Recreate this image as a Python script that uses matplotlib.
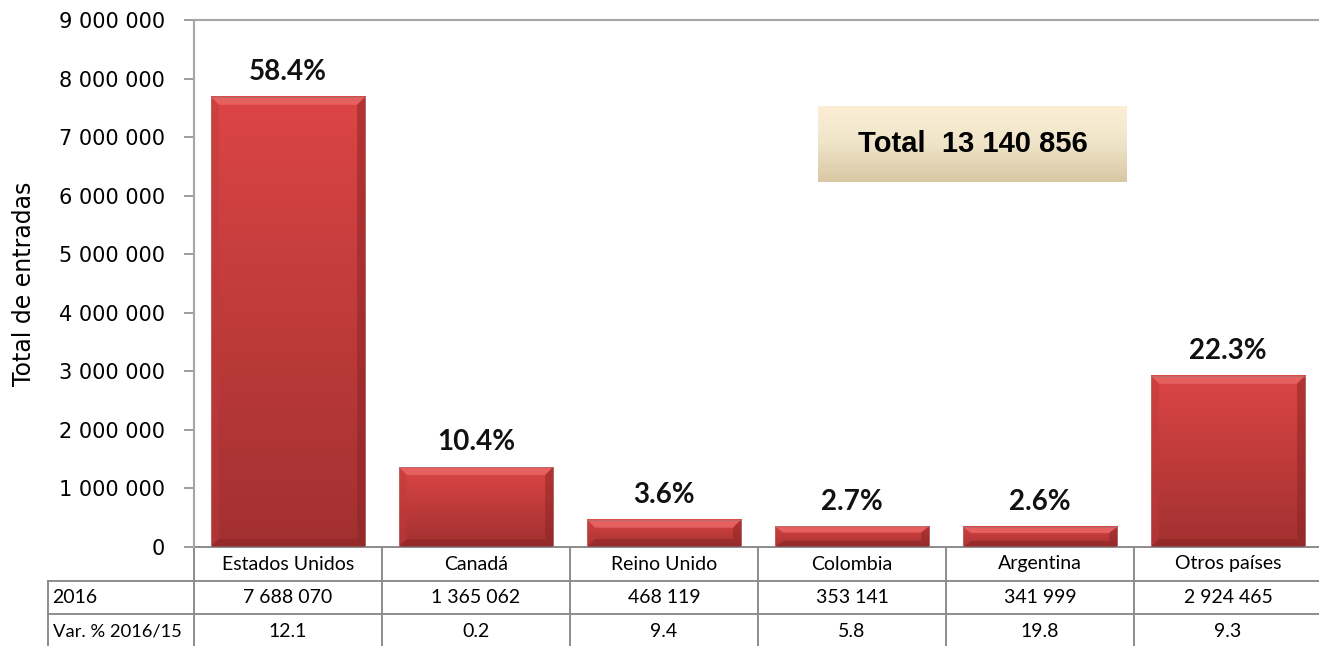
import numpy as np
import matplotlib.pyplot as plt
from matplotlib.colors import LinearSegmentedColormap
from matplotlib.patches import Polygon, Rectangle

paises = ['Estados Unidos', 'Canadá', 'Reino Unido', 'Colombia', 'Argentina', 'Otros países']
entradas = [7688070, 1365062, 468119, 353141, 341999, 2924465]
participacion = ['58.4%', '10.4%', '3.6%', '2.7%', '2.6%', '22.3%']
variacion = ['12.1', '0.2', '9.4', '5.8', '19.8', '9.3']
total = 13140856
yticks = [0, 1000000, 2000000, 3000000, 4000000, 5000000, 6000000, 7000000, 8000000, 9000000]

W, H = 1319, 646
fig = plt.figure(figsize=(W / 100, H / 100), dpi=100)
# axes area in pixels: x 194..1322, y 20..547
ax = fig.add_axes([194 / W, (H - 547) / H, 1128 / W, 527 / H])
plt.rcParams['font.family'] = ['Lato', 'DejaVu Sans']

def fmt(v):
    return f'{v:,}'.replace(',', ' ')

grid = '#8c8c8c'
n = len(paises)
x = np.arange(n)
bw = 0.82
ymax = 9000000
ax.set_xlim(-0.5, n - 0.5)
ax.set_ylim(0, ymax)

cmap = LinearSegmentedColormap.from_list('rojo', ['#a23030', '#dc4545'])
grad = np.linspace(0, 1, 256).reshape(-1, 1)
bx = 8 / 188          # bevel width in data units
by = 8 / 527 * ymax   # bevel height in data units
for xi, v in zip(x, entradas):
    x0, x1 = xi - bw / 2, xi + bw / 2
    ax.imshow(grad, cmap=cmap, origin='lower', aspect='auto',
              extent=(x0, x1, 0, v), zorder=2, interpolation='bilinear')
    b = min(by, v * 0.3)
    ax.add_patch(Polygon([(x0, v), (x1, v), (x1 - bx, v - b), (x0 + bx, v - b)],
                         closed=True, color='#e66060', lw=0, zorder=3))
    ax.add_patch(Polygon([(x1, v), (x1, 0), (x1 - bx, b), (x1 - bx, v - b)],
                         closed=True, color='#8a2424', alpha=0.5, lw=0, zorder=3))
    ax.add_patch(Polygon([(x0, v), (x0, 0), (x0 + bx, b), (x0 + bx, v - b)],
                         closed=True, color='#c03a3a', alpha=0.45, lw=0, zorder=3))
    ax.add_patch(Polygon([(x0, 0), (x1, 0), (x1 - bx, b), (x0 + bx, b)],
                         closed=True, color='#8a2626', alpha=0.55, lw=0, zorder=3))
    ax.add_patch(Rectangle((x0, 0), bw, v, fill=False, ec='#b07070', lw=0.6, zorder=4))

for xi, v, p in zip(x, entradas, participacion):
    ax.text(xi, v + 200000, p, ha='center', va='bottom', fontsize=20,
            fontweight='bold', color='#111111')

ax.set_yticks(yticks)
ax.set_yticklabels([fmt(t) for t in yticks], fontsize=15)
ax.set_xticks([])
ax.tick_params(axis='y', direction='out', length=7, width=1.2, color=grid, pad=14)
for s in ['right', 'bottom']:
    ax.spines[s].set_visible(False)
for s in ['left', 'top']:
    ax.spines[s].set_color('#a6a6a6')
    ax.spines[s].set_linewidth(1.5)
ax.set_ylabel('Total de entradas', fontsize=17, labelpad=16)

# data table below the axis
tr = ax.transAxes
r1, r2, r3 = -34 / 527, -67 / 527, -102 / 527
lbl_left = (48 - 194) / 1128
kw = dict(transform=tr, color=grid, lw=1.4, clip_on=False)
ax.plot([0, 1], [0, 0], **kw)
ax.plot([lbl_left, 1], [r1, r1], **kw)
ax.plot([lbl_left, 1], [r2, r2], **kw)
ax.plot([lbl_left, lbl_left], [r1, r3], **kw)
for i in range(n + 1):
    ax.plot([i / n, i / n], [0, r3], **kw)

fs = 14
for i in range(n):
    cx = (i + 0.5) / n
    ax.text(cx, r1 / 2, paises[i], transform=tr, ha='center', va='center', fontsize=fs)
    ax.text(cx, (r1 + r2) / 2, fmt(entradas[i]), transform=tr, ha='center', va='center', fontsize=fs)
    ax.text(cx, (r2 + r3) / 2, variacion[i], transform=tr, ha='center', va='center', fontsize=fs)
ax.text(lbl_left + 0.004, (r1 + r2) / 2, '2016', transform=tr, ha='left', va='center', fontsize=fs)
ax.text(lbl_left + 0.004, (r2 + r3) / 2, 'Var. % 2016/15', transform=tr, ha='left', va='center', fontsize=13.2)

# total box
bax = fig.add_axes([818 / W, (H - 182) / H, 309 / W, 76 / H])
bcmap = LinearSegmentedColormap.from_list('beige', ['#d8c7a2', '#efe4c8', '#fcefd6'])
bax.imshow(grad, cmap=bcmap, origin='lower', aspect='auto', extent=(0, 1, 0, 1))
bax.set_xlim(0, 1)
bax.set_ylim(0, 1)
bax.axis('off')
bax.text(0.5, 0.5, 'Total  ' + fmt(total), ha='center', va='center', fontsize=21,
         fontweight='bold', family=['Liberation Sans', 'DejaVu Sans'])

fig.savefig('out.png', dpi=100)
